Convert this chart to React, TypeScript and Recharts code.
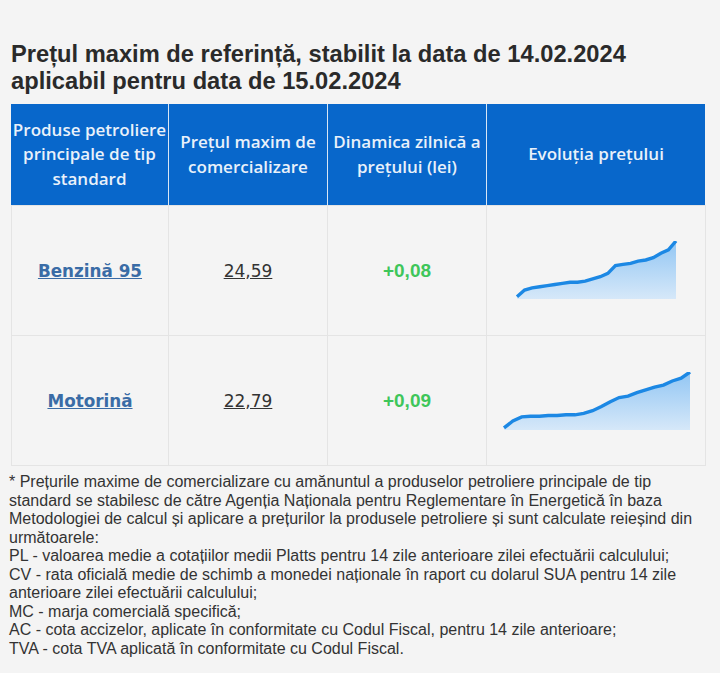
import React from "react";
import { AreaChart, Area, XAxis, YAxis } from "recharts";

const titleLines = [
  "Prețul maxim de referință, stabilit la data de 14.02.2024",
  "aplicabil pentru data de 15.02.2024",
];
const headers = [
  ["Produse petroliere", "principale de tip", "standard"],
  ["Prețul maxim de", "comercializare"],
  ["Dinamica zilnică a", "prețului (lei)"],
  ["Evoluția prețului"],
];
const products = ["Benzină 95", "Motorină"];
const prices = ["24,59", "22,79"];
const dynamics = ["+0,08", "+0,09"];
const benzinaSeries = [24.09, 24.15, 24.17, 24.18, 24.19, 24.2, 24.21, 24.22, 24.22, 24.23, 24.25, 24.27, 24.3, 24.37, 24.38, 24.39, 24.41, 24.42, 24.44, 24.48, 24.51, 24.59];
const motorinaSeries = [21.98, 22.08, 22.14, 22.15, 22.15, 22.16, 22.16, 22.17, 22.17, 22.19, 22.23, 22.29, 22.36, 22.42, 22.44, 22.49, 22.53, 22.57, 22.6, 22.66, 22.7, 22.79];
const seriesDomains: [number, number][] = [
  [24.07, 24.59],
  [21.95, 22.79],
];
const footnoteLines = [
  "* Prețurile maxime de comercializare cu amănuntul a produselor petroliere principale de tip",
  "standard se stabilesc de către Agenția Naționala pentru Reglementare în Energetică în baza",
  "Metodologiei de calcul și aplicare a prețurilor la produsele petroliere și sunt calculate reieșind din",
  "următoarele:",
  "PL - valoarea medie a cotațiilor medii Platts pentru 14 zile anterioare zilei efectuării calculului;",
  "CV - rata oficială medie de schimb a monedei naționale în raport cu dolarul SUA pentru 14 zile",
  "anterioare zilei efectuării calculului;",
  "MC - marja comercială specifică;",
  "AC - cota accizelor, aplicate în conformitate cu Codul Fiscal, pentru 14 zile anterioare;",
  "TVA - cota TVA aplicată în conformitate cu Codul Fiscal.",
];

const colX = [11, 168, 327, 486, 705];
const headerTop = 104;
const headerBottom = 205;
const rowBottoms = [335, 465];
const chartBoxes = [
  { left: 513, top: 237, width: 167, height: 66 },
  { left: 500, top: 368, width: 194, height: 66 },
];

function Spark({ values, domain, idx }: { values: number[]; domain: [number, number]; idx: number }) {
  const data = values.map((v, i) => ({ i, v }));
  const box = chartBoxes[idx];
  return (
    <div style={{ position: "absolute", left: box.left, top: box.top }}>
      <AreaChart width={box.width} height={box.height} data={data} margin={{ top: 4, right: 4, bottom: 4, left: 4 }}>
        <defs>
          <linearGradient id={"g" + idx} x1="0" y1="0" x2="0" y2="1">
            <stop offset="0%" stopColor="#92c6f3" />
            <stop offset="100%" stopColor="#d6e8f9" />
          </linearGradient>
        </defs>
        <XAxis dataKey="i" hide type="number" domain={[0, values.length - 1]} />
        <YAxis hide domain={domain} allowDataOverflow />
        <Area
          type="linear"
          dataKey="v"
          stroke="#1c88e4"
          strokeWidth={3.4}
          fill={"url(#g" + idx + ")"}
          fillOpacity={1}
          isAnimationActive={false}
          dot={false}
          activeDot={false}
          baseValue={domain[0]}
        />
      </AreaChart>
    </div>
  );
}

export default function App() {
  const series = [benzinaSeries, motorinaSeries];
  return (
    <div style={{ position: "absolute", left: 0, top: 0, width: 720, height: 673, background: "#f4f4f4", overflow: "hidden", fontFamily: "'Liberation Sans', Arial, sans-serif" }}>
      <div style={{ position: "absolute", left: 11, top: 41, fontSize: 23.7, fontWeight: 700, color: "#2a2a2a", lineHeight: "27px", whiteSpace: "nowrap" }}>
        {titleLines.map((t, i) => (
          <div key={i}>{t}</div>
        ))}
      </div>
      {/* header */}
      <div style={{ position: "absolute", left: colX[0], top: headerTop, width: colX[4] - colX[0], height: headerBottom - headerTop, background: "#0867cb" }} />
      {headers.map((h, i) => (
        <div
          key={i}
          style={{
            position: "absolute",
            left: colX[i],
            top: headerTop,
            width: colX[i + 1] - colX[i],
            height: headerBottom - headerTop,
            display: "flex",
            flexDirection: "column",
            justifyContent: "center",
            alignItems: "center",
            color: "#e9f1fa",
            fontFamily: "'Open Sans', sans-serif",
            fontWeight: 600,
            fontSize: 17,
            lineHeight: "24.5px",
            borderLeft: i > 0 ? "1px solid #d8e6f5" : "none",
            boxSizing: "border-box",
            whiteSpace: "nowrap",
          }}
        >
          {h.map((l, j) => (
            <div key={j}>{l}</div>
          ))}
        </div>
      ))}
      {/* body cells */}
      {products.map((p, r) => {
        const top = r === 0 ? headerBottom : rowBottoms[r - 1];
        const bottom = rowBottoms[r];
        const cellStyle = (c: number): React.CSSProperties => ({
          position: "absolute",
          left: colX[c],
          top,
          width: colX[c + 1] - colX[c] + 1,
          height: bottom - top + 1,
          border: "1px solid #e4e4e4",
          boxSizing: "border-box",
          display: "flex",
          alignItems: "center",
          justifyContent: "center",
          whiteSpace: "nowrap",
        });
        return (
          <React.Fragment key={r}>
            <div style={cellStyle(0)}>
              <span style={{ fontFamily: "'DejaVu Sans', Verdana, sans-serif", fontWeight: 700, fontSize: 16.8, color: "#3a6ca6", textDecoration: "underline" }}>{p}</span>
            </div>
            <div style={cellStyle(1)}>
              <span style={{ fontFamily: "'DejaVu Sans', Verdana, sans-serif", fontSize: 17, color: "#333", textDecoration: "underline" }}>{prices[r]}</span>
            </div>
            <div style={cellStyle(2)}>
              <span style={{ fontFamily: "'Liberation Sans', Arial, sans-serif", fontWeight: 700, fontSize: 19, color: "#3ec65a" }}>{dynamics[r]}</span>
            </div>
            <div style={cellStyle(3)} />
          </React.Fragment>
        );
      })}
      {series.map((s, i) => (
        <Spark key={i} values={s} domain={seriesDomains[i]} idx={i} />
      ))}
      <div style={{ position: "absolute", left: 9, top: 473, fontSize: 16, color: "#333", lineHeight: "18.55px", whiteSpace: "nowrap" }}>
        {footnoteLines.map((t, i) => (
          <div key={i}>{t}</div>
        ))}
      </div>
    </div>
  );
}
